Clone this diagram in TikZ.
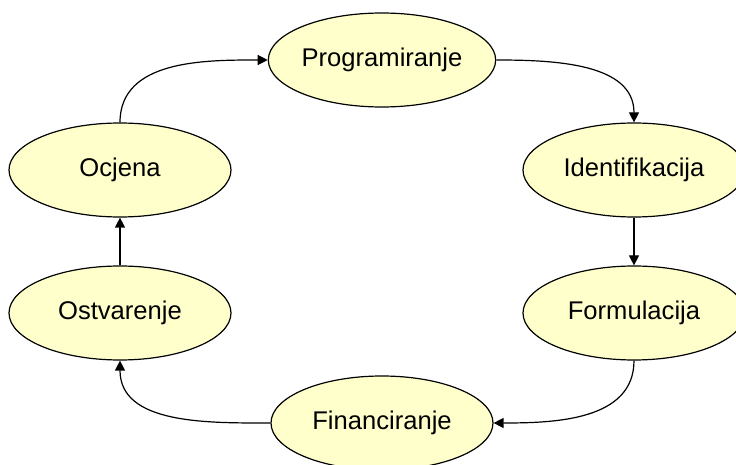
\documentclass[tikz,border=0pt]{standalone}
\usepackage{fontspec}
\setmainfont{Liberation Sans}
\usetikzlibrary{shapes.geometric,arrows.meta}
\definecolor{svijetlozuta}{HTML}{FFFFCC}
\tikzset{
	faza/.style={ellipse,draw,fill=svijetlozuta,line width=0.6pt,minimum width=111pt,minimum height=47pt,inner sep=0pt,font=\fontsize{12.8}{15}\selectfont},
	tok/.style={line width=0.6pt,-{Triangle[length=5pt,width=5pt]}}
}
\begin{document}
\begin{tikzpicture}[x=0.5pt,y=-0.5pt]
	\clip (0,0) rectangle (736,465);
	\node[faza] (prog) at (382,60) {Programiranje};
	\node[faza] (ident) at (634,170) {Identifikacija};
	\node[faza] (form) at (634,313) {Formulacija};
	\node[faza] (fin) at (382,423) {Financiranje};
	\node[faza] (ostv) at (120,313) {Ostvarenje};
	\node[faza] (ocj) at (120,170) {Ocjena};
	\draw[tok] (ocj.north) to[out=90,in=180] (prog.west);
	\draw[tok] (prog.east) to[out=0,in=90] (ident.north);
	\draw[tok] (ident.south) -- (form.north);
	\draw[tok] (form.south) to[out=-90,in=0] (fin.east);
	\draw[tok] (fin.west) to[out=180,in=-90] (ostv.south);
	\draw[tok] (ostv.north) -- (ocj.south);
\end{tikzpicture}
\end{document}
